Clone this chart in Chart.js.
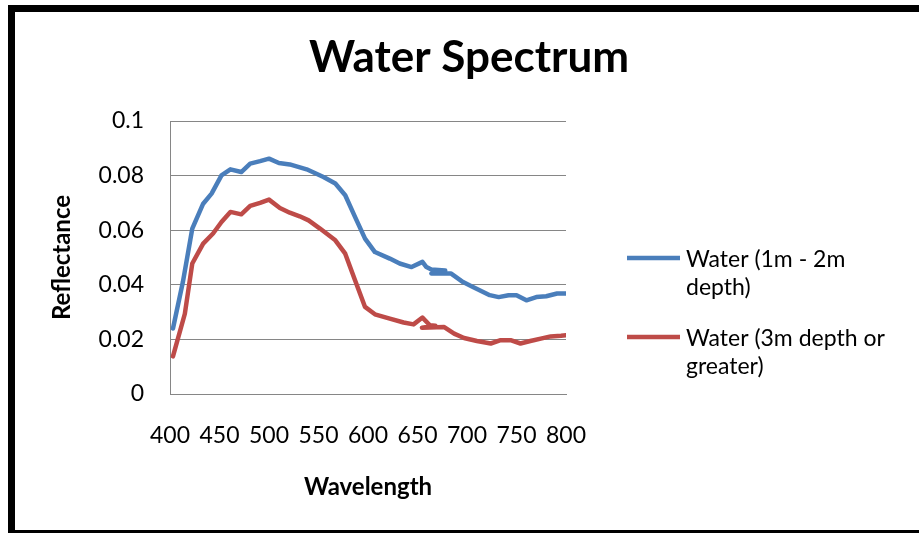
<!DOCTYPE html>
<html>
<head>
<meta charset="utf-8">
<title>Water Spectrum</title>
<script src="https://cdn.jsdelivr.net/npm/chart.js@4.4.1/dist/chart.umd.min.js"></script>
<style>
  html, body { margin: 0; padding: 0; background: #fff; overflow: hidden; }
  #frame {
    position: absolute; left: 8px; top: 5px; width: 940px; height: 518px;
    border-left: 7px solid #000; border-top: 7px solid #000; border-bottom: 3px solid #000;
  }
  #chart { position: absolute; left: 0; top: 0; }
</style>
</head>
<body>
<div id="frame"></div>
<canvas id="chart" width="919" height="534"></canvas>
<script>
// ---------- Data ----------
// shallow water, 1m - 2m (the scan folds back on itself near 660 nm)
const wavelengthsShallow = [403, 413, 422.5, 433.5, 442, 452, 461, 472, 481, 491, 500, 510, 521, 538, 555, 567,
  577, 587, 597, 607, 622, 632, 644, 655, 659, 664, 678, 664, 684, 696, 706, 723, 732, 742, 750, 760, 770, 780, 791, 800];
const reflectanceShallow = [0.024, 0.041, 0.0606, 0.0697, 0.0734, 0.0801, 0.0823, 0.0813, 0.0844, 0.0853, 0.0862, 0.0846,
  0.0841, 0.0823, 0.0795, 0.0771, 0.0728, 0.0648, 0.0569, 0.052, 0.0496, 0.0478, 0.0465, 0.0484, 0.0465, 0.0456, 0.0452,
  0.0441, 0.0441, 0.041, 0.0392, 0.0362, 0.0355, 0.0362, 0.0362, 0.0343, 0.0355, 0.0358, 0.0368, 0.0368];

// deep water, 3m or more
const wavelengthsDeep = [403, 415, 422.5, 433.5, 443.5, 452, 461, 472, 481, 491, 500, 511, 521, 531, 540, 551.5, 567,
  577, 587, 597, 607, 622, 636, 646, 655, 662.5, 668, 654.5, 677, 687, 697, 710, 724, 734, 744, 754, 764, 774.5, 784.5, 795, 800];
const reflectanceDeep = [0.0138, 0.0294, 0.0478, 0.0551, 0.0588, 0.063, 0.0667, 0.0658, 0.0689, 0.07, 0.0712, 0.0681,
  0.0664, 0.0651, 0.0636, 0.0606, 0.0563, 0.0514, 0.0416, 0.0319, 0.0292, 0.0276, 0.0262, 0.0255, 0.028, 0.0252, 0.025,
  0.0243, 0.0245, 0.0221, 0.0205, 0.0194, 0.0185, 0.0197, 0.0197, 0.0185, 0.0194, 0.0203, 0.0211, 0.0213, 0.0215];

const seriesLabels = ["Water (1m - 2m depth)", "Water (3m depth or greater)"];
const legendLines = [["Water (1m - 2m", "depth)"], ["Water (3m depth or", "greater)"]];
const seriesColors = ["#4A7EBB", "#BE4B48"];

const xTickValues = [400, 450, 500, 550, 600, 650, 700, 750, 800];
const yTickValues = [0, 0.02, 0.04, 0.06, 0.08, 0.1];

const FONT = "Lato";
const GRID = "#868686";

// ---------- Legend on the right, two-line labels ----------
const sideLegend = {
  id: "sideLegend",
  afterDraw(chart) {
    const { ctx, chartArea } = chart;
    ctx.save();
    ctx.font = "23px " + FONT;
    ctx.fillStyle = "#000";
    ctx.textBaseline = "alphabetic";
    chart.data.datasets.forEach((ds, i) => {
      const x0 = chartArea.right + 61;
      const lineY = chartArea.top + 137 + i * 79;
      ctx.strokeStyle = ds.borderColor;
      ctx.lineWidth = 4.5;
      ctx.beginPath();
      ctx.moveTo(x0, lineY);
      ctx.lineTo(x0 + 53, lineY);
      ctx.stroke();
      legendLines[i].forEach((t, j) => ctx.fillText(t, x0 + 59, lineY + 9 + j * 28));
    });
    ctx.restore();
  }
};

function toPoints(xs, ys) {
  return xs.map((x, i) => ({ x: x, y: ys[i] }));
}

new Chart(document.getElementById("chart"), {
  type: "scatter",
  data: {
    datasets: [
      { label: seriesLabels[0], data: toPoints(wavelengthsShallow, reflectanceShallow) },
      { label: seriesLabels[1], data: toPoints(wavelengthsDeep, reflectanceDeep) }
    ].map((ds, i) => Object.assign(ds, {
      showLine: true,
      borderColor: seriesColors[i],
      backgroundColor: seriesColors[i],
      borderWidth: 4.5,
      borderJoinStyle: "round",
      borderCapStyle: "round",
      pointRadius: 0,
      tension: 0
    }))
  },
  options: {
    responsive: false,
    animation: false,
    devicePixelRatio: 1,
    layout: { padding: { left: 19, right: 0, top: 0, bottom: 12 } },
    plugins: {
      legend: { display: false },
      tooltip: { enabled: false },
      title: {
        display: true,
        text: "Water Spectrum",
        color: "#000",
        font: { family: FONT, size: 44, weight: "bold" },
        padding: { top: 31.6, bottom: 36.6 }
      }
    },
    scales: {
      x: {
        type: "linear",
        min: 400,
        max: 800,
        afterFit: s => { s.height = 128; },
        afterBuildTicks: s => { s.ticks = xTickValues.map(v => ({ value: v })); },
        grid: { display: false, drawTicks: false },
        border: { color: GRID },
        ticks: { padding: 28, color: "#000", maxRotation: 0, font: { family: FONT, size: 23 } },
        title: {
          display: true, text: "Wavelength", color: "#000",
          font: { family: FONT, size: 24, weight: "bold" },
          padding: { top: 0, bottom: 20.6 }
        }
      },
      y: {
        min: 0,
        max: 0.1,
        afterFit: s => { s.width = 151; },
        afterBuildTicks: s => { s.ticks = yTickValues.map(v => ({ value: v })); },
        grid: { color: GRID, drawTicks: false },
        border: { color: GRID },
        ticks: {
          padding: 26, color: "#000", font: { family: FONT, size: 23 },
          callback: v => String(+v.toFixed(2))
        },
        title: {
          display: true, text: "Reflectance", color: "#000",
          font: { family: FONT, size: 24, weight: "bold" },
          padding: { top: 29.3, bottom: 0 }
        }
      },
      // empty strip that keeps the room for the legend at the right
      legendSpace: {
        type: "linear",
        position: "right",
        afterFit: s => { s.width = 353; },
        grid: { display: false, drawTicks: false },
        border: { display: false },
        ticks: { display: false }
      }
    }
  },
  plugins: [sideLegend]
});
</script>
</body>
</html>
